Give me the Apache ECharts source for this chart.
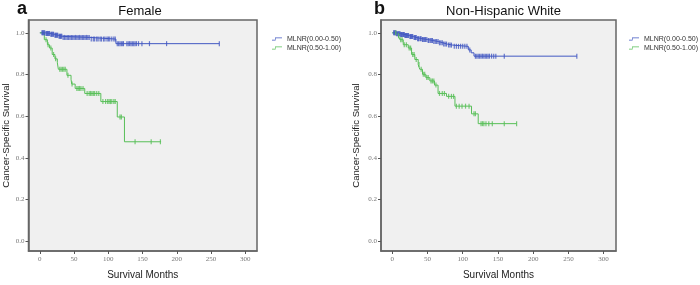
<!DOCTYPE html>
<html>
<head>
<meta charset="utf-8">
<script src="https://cdn.jsdelivr.net/npm/echarts@6/dist/echarts.min.js"></script>
<style>html,body{margin:0;padding:0;background:#fff}#c{width:700px;height:285px}</style>
</head>
<body>
<div id="c"></div>
<script>
// ---------- data ----------
const groupNames = ['MLNR(0.00-0.50)', 'MLNR(0.50-1.00)'];
const panelTitles = ['Female', 'Non-Hispanic White'];
const panelLetters = ['a', 'b'];
const xTicks = [0, 50, 100, 150, 200, 250, 300];
const yTicks = [0, 0.2, 0.4, 0.6, 0.8, 1.0];

// Panel a (Female)
const aLowTimes = [0, 8, 15, 21, 27, 33, 73, 111];
const aLowSurv  = [1.0, 0.997, 0.993, 0.988, 0.983, 0.978, 0.970, 0.948];
const aLowEnd = 262;
const aLowCensor = [3,4,5,6,7,9,10,11,12,13,14,16,17,18,19,20,22,23,24,25,26,28,29,30,31,32,34,36,38,40,42,44,46,48,50,52,54,56,58,60,62,64,66,68,70,72,75,78,80,83,85,88,90,93,95,98,100,102,105,108,110,113,115,117,119,121,122,127,129,131,133,135,137,139,141,144,149,160,185,262];
const aHighTimes = [0, 6.5, 11, 14, 18, 22, 25.5, 27, 39.5, 45.5, 46.5, 51.5, 65.5, 89, 113, 123.5];
const aHighSurv  = [1.0, 0.967, 0.943, 0.927, 0.896, 0.875, 0.856, 0.825, 0.796, 0.777, 0.754, 0.733, 0.709, 0.670, 0.596, 0.477];
const aHighEnd = 177;
const aHighCensor = [9,12,16,20,23,29,31,33,35,37,41,47,54,56,58,60,63,69,72,74,76,78,80,83,86,92,96,99,101,103,105,108,110,117,119,139,162.5,176];

// Panel b (Non-Hispanic White)
const bLowTimes = [0, 6, 12, 18, 24, 30, 35, 42, 50, 58, 66, 72, 78, 86, 108, 112, 116];
const bLowSurv  = [1.0, 0.996, 0.992, 0.987, 0.982, 0.977, 0.972, 0.968, 0.963, 0.958, 0.952, 0.946, 0.941, 0.935, 0.918, 0.904, 0.888];
const bLowEnd = 262;
const bLowCensor = [2,3,4,5,6,7,8,9,10,11,12,13,14,15,16,17,18,19,20,21,22,23,25,26,27,28,29,31,32,33,34,36,37,38,40,41,43,44,46,47,49,51,52,54,56,57,59,61,63,65,67,69,71,73,75,77,80,82,84,88,91,94,97,100,103,106,110,118,120,122,124,126,128,130,132,134,136,138,141,144,147,159,262];
const bHighTimes = [0, 8.5, 10.8, 15.6, 22.7, 27.4, 32, 36.8, 39, 42.9, 47.6, 53.3, 60, 65, 77, 89, 112.5, 122];
const bHighSurv  = [1.0, 0.986, 0.967, 0.943, 0.927, 0.896, 0.872, 0.848, 0.825, 0.801, 0.785, 0.769, 0.749, 0.709, 0.695, 0.648, 0.611, 0.564];
const bHighEnd = 176.5;
const bHighCensor = [5,9,12,14,17,20,24,26,29,31,34,38,41,44,46,49,51,55,57,59,62,67,71,74,80,84,87,91,95,99,104,109,116,118,126,128,130,133,137,142,159,176.5];

// ---------- helpers ----------
function curve(times, surv, end) {
  const d = times.map((t, i) => [t, surv[i]]);
  d.push([end, surv[surv.length - 1]]);
  return d;
}
function survAt(times, surv, t) {
  let v = surv[0];
  for (let i = 0; i < times.length; i++) if (times[i] <= t) v = surv[i];
  return v;
}
function censorPts(times, surv, cens) {
  return cens.map(t => [t, survAt(times, surv, t)]);
}

const blue = '#4258c2';
const green = '#58bf58';
const serif = '"Liberation Serif","DejaVu Serif",serif';
const sans = '"Liberation Sans",Arial,sans-serif';

const panels = [
  {left: 22, xmin: -16.6, xmax: 317, yGap: 17.5, legendLeft: 272, titleX: 135, letterX: 12,
   low: [aLowTimes, aLowSurv, aLowEnd, aLowCensor], high: [aHighTimes, aHighSurv, aHighEnd, aHighCensor]},
  {left: 381, xmin: -16.0, xmax: 317.6, yGap: 20, legendLeft: 629, titleX: 498.5, letterX: 369,
   low: [bLowTimes, bLowSurv, bLowEnd, bLowCensor], high: [bHighTimes, bHighSurv, bHighEnd, bHighCensor]}
];

const grid = [], xAxis = [], yAxis = [], series = [], title = [], legend = [];
panels.forEach((p, i) => {
  grid.push({left: p.left, top: 20, width: 235, height: 234, show: true,
    backgroundColor: '#f0f0f0', borderColor: '#666', borderWidth: 1.5});
  xAxis.push({type: 'value', gridIndex: i, min: p.xmin, max: p.xmax,
    name: 'Survival Months', nameLocation: 'middle', nameGap: 19,
    nameTextStyle: {fontFamily: sans, fontSize: 10, color: '#222'},
    axisLine: {show: true, onZero: false, lineStyle: {color: '#666', width: 1.5}},
    axisTick: {show: true, length: 3, customValues: xTicks, lineStyle: {color: '#555'}},
    axisLabel: {customValues: xTicks, margin: 5, fontFamily: serif, fontSize: 7, color: '#777'},
    splitLine: {show: false}});
  yAxis.push({type: 'value', gridIndex: i, min: -0.0474, max: 1.0616,
    name: 'Cancer-Specific Survival', nameLocation: 'middle', nameGap: p.yGap,
    nameTextStyle: {fontFamily: sans, fontSize: 9.6, color: '#222'},
    axisLine: {show: true, onZero: false, lineStyle: {color: '#666', width: 1.5}},
    axisTick: {show: true, length: 3, customValues: yTicks, lineStyle: {color: '#555'}},
    axisLabel: {customValues: yTicks, margin: 4, fontFamily: serif, fontSize: 7, color: '#777',
      formatter: v => v.toFixed(1)},
    splitLine: {show: false}});
  [[p.low, blue, groupNames[0]], [p.high, green, groupNames[1]]].forEach(([g, col, nm]) => {
    series.push({type: 'line', name: nm, xAxisIndex: i, yAxisIndex: i, step: 'end',
      data: curve(g[0], g[1], g[2]), showSymbol: false, symbol: 'none',
      lineStyle: {color: col, width: 1}, itemStyle: {color: col}, silent: true, animation: false, z: 2});
    series.push({type: 'scatter', name: nm + ' censored', xAxisIndex: i, yAxisIndex: i,
      data: censorPts(g[0], g[1], g[3]), symbol: 'rect', symbolSize: [1.2, 5],
      itemStyle: {color: col}, silent: true, animation: false, z: 3});
  });
  title.push({text: panelTitles[i], left: p.titleX, textAlign: 'center', top: 0,
    textStyle: {fontFamily: sans, fontSize: 13, fontWeight: 'normal', color: '#111'}});
  title.push({text: panelLetters[i], left: p.letterX, top: -5,
    textStyle: {fontFamily: sans, fontSize: 18, fontWeight: 'bold', color: '#111'}});
  legend.push({data: groupNames, orient: 'vertical', left: p.legendLeft, top: 35.5, padding: 0,
    itemWidth: 10, itemHeight: 4, itemGap: 2, selectedMode: false,
    icon: 'path://M0,3.2 L4.2,3.2 L4.2,0 L14,0 L14,0.8 L5,0.8 L5,4 L0,4 Z',
    itemStyle: {borderWidth: 0},
    textStyle: {fontFamily: sans, fontSize: 7, color: '#333'}});
});

const chart = echarts.init(document.getElementById('c'), null, {renderer: 'canvas'});
chart.setOption({animation: false, backgroundColor: '#fff', grid, xAxis, yAxis, series, title, legend});
</script>
</body>
</html>
